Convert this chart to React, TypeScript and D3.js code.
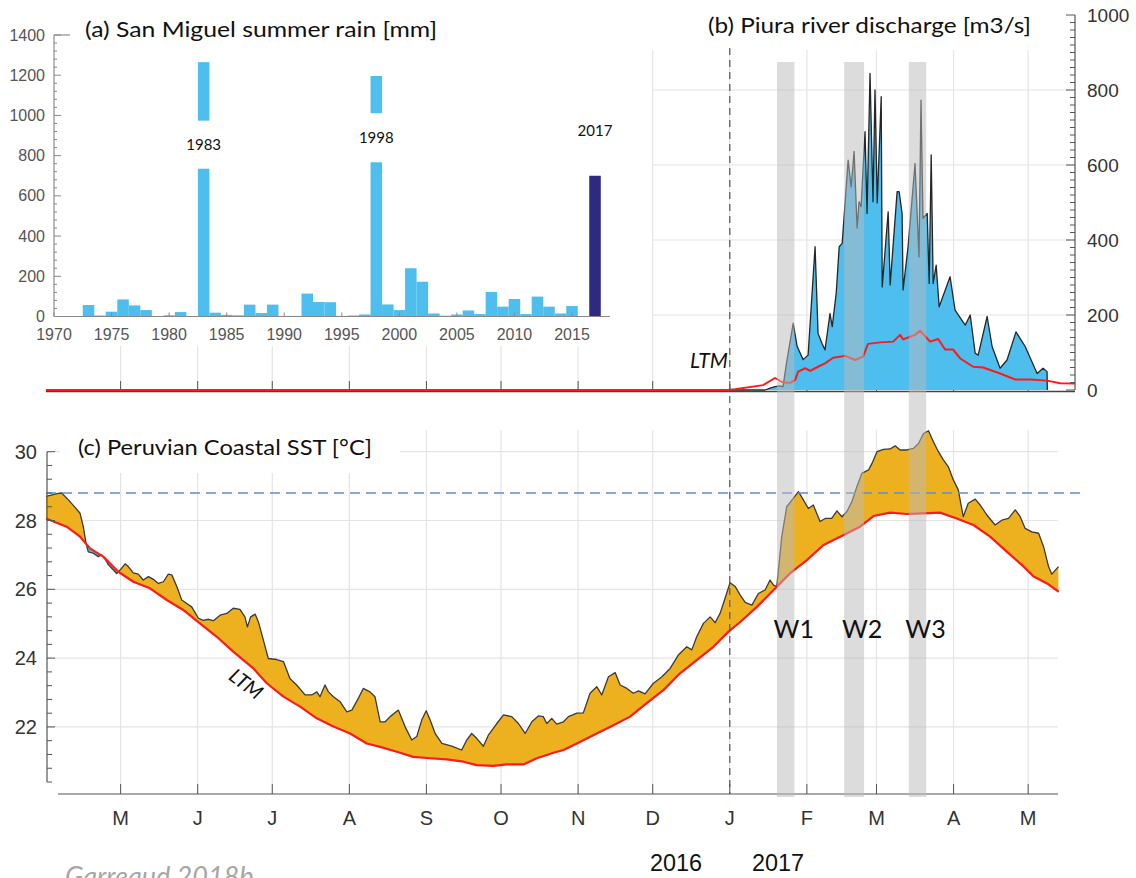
import React from "react";
import * as d3 from "d3";

const W = 1136;
const H = 878;

// (a) San Miguel summer rain [mm]
const rainYears = [
  1973, 1974, 1975, 1976, 1977, 1978, 1979, 1980, 1981, 1982, 1983, 1984, 1985, 1986, 1987,
  1988, 1989, 1990, 1991, 1992, 1993, 1994, 1995, 1996, 1997, 1998, 1999, 2000, 2001, 2002,
  2003, 2004, 2005, 2006, 2007, 2008, 2009, 2010, 2011, 2012, 2013, 2014, 2015, 2016, 2017,
];
const rainMm = [
  57, 5, 24, 85, 55, 32, 0, 6, 22, 0, 1265, 19, 8, 6, 59,
  17, 59, 3, 3, 114, 72, 71, 3, 5, 10, 1196, 60, 32, 240, 173,
  15, 4, 10, 30, 12, 122, 49, 87, 12, 99, 49, 15, 52, 0, 700,
];
const highlightYear = 2017;
const labelledYears = [1983, 1998, 2017];
// bars that are interrupted by their year label (value range hidden)
const brokenBars: Record<number, [number, number]> = { 1983: [735, 974], 1998: [767, 1011] };
const rainTicks = [0, 200, 400, 600, 800, 1000, 1200, 1400];
const yearTicks = [1970, 1975, 1980, 1985, 1990, 1995, 2000, 2005, 2010, 2015];

// (b) Piura river discharge [m3/s], day = days since 1 Jan 2017
const discharge: [number, number][] = [
  [0, 0], [14.2, 0], [16.2, 5], [18.2, 9], [20.2, 11], [21.4, 9], [23, 80], [25.5, 178],
  [27.1, 116], [29.5, 81], [31.5, 93], [34.3, 382], [35.5, 151], [37.1, 124], [38.3, 107],
  [40.3, 204], [41.2, 169], [42.8, 258], [44, 382], [45.2, 391], [47.6, 613], [48.8, 542],
  [50, 636], [51.2, 432], [52, 502], [52.8, 489], [54.4, 689], [55.2, 471], [56.4, 844],
  [57.6, 502], [58.4, 800], [59.3, 499], [60.9, 782], [61.3, 275], [63.7, 475], [64.5, 280],
  [67.3, 529], [68.1, 529], [69.3, 471], [69.7, 267], [71.7, 382], [74.5, 604], [76.1, 355],
  [76.9, 773], [77.7, 458], [79.4, 471], [80.2, 284], [81, 627], [81.8, 284], [83, 333],
  [84.2, 222], [88.6, 302], [90.6, 213], [94.7, 173], [96.7, 200], [98.7, 98], [99.9, 93],
  [103.5, 196], [105.5, 116], [108.7, 58], [111.5, 80], [115.1, 155], [118.8, 116],
  [123.6, 44], [126, 58], [127.6, 49], [127.7, 0],
];
const dischargeLtm: [number, number][] = [
  [-275, 0], [-0.7, 0], [2.1, 2], [13.4, 13], [18.2, 32], [21.4, 20], [24.3, 19], [26.3, 27],
  [27.5, 49], [30.3, 58], [32.3, 51], [35.5, 62], [38.3, 71], [41.6, 86], [46.4, 91],
  [50.4, 80], [53.6, 89], [55.6, 123], [60.5, 127], [65.7, 129], [68.5, 147], [69.7, 135],
  [72.5, 142], [74.5, 147], [76.5, 158], [80.6, 129], [83.8, 136], [86.6, 108], [89.8, 108],
  [92.7, 84], [97.9, 62], [101.9, 60], [108.7, 44], [114.8, 28], [120.8, 28], [127.6, 25],
  [132.9, 18], [138.9, 17],
];
const qTicks = [0, 200, 400, 600, 800, 1000];

// (c) Peruvian coastal SST [°C], day = days since 1 Apr 2016
const sst: [number, number][] = [
  [0, 28.7], [4.9, 28.79], [6.3, 28.8], [9, 28.6], [11.7, 28.38], [13.7, 28.21], [15, 27.82],
  [16.1, 27.34], [17, 27.09], [19, 27.05], [21, 26.95], [22.4, 27.0], [23.7, 26.9], [25.1, 26.71],
  [27.1, 26.56], [28.4, 26.46], [29.8, 26.56], [31.8, 26.74], [33.1, 26.66], [35.1, 26.48],
  [37.1, 26.44], [39.1, 26.27], [41.2, 26.37], [43.2, 26.29], [45.2, 26.17], [47.2, 26.22],
  [49.2, 26.44], [50.6, 26.42], [52.6, 26.08], [54.6, 25.69], [56.6, 25.59], [58.6, 25.49],
  [61.3, 25.16], [63.3, 25.1], [65.3, 25.13], [67.3, 25.09], [70, 25.25], [72.7, 25.3],
  [75.3, 25.45], [78, 25.42], [80, 25.2], [81, 24.91], [82.3, 25.2], [84.1, 25.28], [85.4, 25.06],
  [87.4, 24.53], [89.4, 23.99], [92.8, 23.96], [95.5, 23.9], [98.1, 23.41], [100.8, 23.22],
  [104.2, 22.93], [106.9, 22.93], [108.9, 23.02], [110.2, 22.88], [112.2, 23.22], [113.6, 23.02],
  [115.6, 22.88], [118.3, 22.73], [121, 22.44], [123, 22.49], [125.6, 22.83], [127.6, 23.12],
  [130.3, 23.02], [132.3, 22.88], [134.4, 22.15], [136.4, 22.15], [138.4, 22.3], [141.7, 22.49],
  [144.4, 22.01], [147.1, 21.62], [149.1, 21.72], [151.1, 22.2], [152.9, 22.47], [154.5, 22.2],
  [156.5, 21.81], [159.2, 21.52], [163.2, 21.44], [167.2, 21.33], [169.2, 21.62], [171.2, 21.81],
  [173.2, 21.67], [175.9, 21.44], [177.9, 21.76], [181.3, 22.1], [184, 22.35], [187.3, 22.3],
  [190, 22.1], [192.7, 21.81], [195.4, 22.15], [198, 22.32], [200, 22.3], [201.4, 22.1],
  [203.4, 22.25], [205.4, 22.08], [208.1, 22.15], [210.1, 22.3], [213.5, 22.4], [216.1, 22.41],
  [218.8, 22.98], [221.5, 23.17], [223.5, 22.93], [226.2, 23.46], [228.9, 23.58], [230.9, 23.22],
  [233.6, 23.12], [236.2, 22.98], [238.3, 23.05], [240.9, 22.96], [244.3, 23.27], [247.7, 23.46],
  [251, 23.7], [254.3, 24.09], [257.7, 24.33], [259.7, 24.24], [261.7, 24.62], [264.4, 25.01],
  [267.1, 25.2], [269.1, 25.03], [271.1, 25.3], [273.1, 25.74], [275.1, 26.19], [277.2, 26.08],
  [279.2, 25.83], [281.2, 25.62], [283.9, 25.54], [286.5, 25.88], [289.2, 25.98], [291.2, 26.27],
  [292.6, 26.12], [293.9, 26.08], [295.9, 27.53], [297.9, 28.4], [300.6, 28.65], [302.6, 28.84],
  [304.6, 28.6], [306.6, 28.35], [308.6, 28.45], [311.3, 27.97], [313.4, 28.06], [316, 28.06],
  [318.1, 28.28], [320.1, 28.11], [322.1, 28.26], [324.1, 28.55], [326.1, 28.98], [328.1, 29.37],
  [330.8, 29.47], [332.2, 29.66], [334.2, 30.0], [336.8, 30.07], [339.5, 30.08], [341.5, 30.17],
  [343.5, 30.05], [346.2, 30.05], [348.9, 30.1], [350.9, 30.24], [352.9, 30.53], [354.9, 30.61],
  [356.9, 30.29], [358.9, 30.0], [360.9, 29.76], [362.9, 29.56], [364.9, 29.18], [366.9, 28.89],
  [368.9, 28.11], [370.9, 28.5], [373.7, 28.62], [375.7, 28.45], [378.4, 28.16], [381.7, 27.87],
  [384.4, 28.01], [387.1, 28.06], [389.8, 28.31], [391.8, 28.11], [393.8, 27.77], [396.5, 27.67],
  [399.2, 27.63], [401.2, 27.24], [403.2, 26.66], [404.5, 26.44], [407.2, 26.66],
];
const sstLtm: [number, number][] = [
  [0, 28.06], [8.3, 27.82], [13.7, 27.53], [17.7, 27.19], [23, 26.95], [29.1, 26.51],
  [35.1, 26.22], [41.8, 26.03], [48.6, 25.69], [55.2, 25.4], [61.9, 25.01], [68.7, 24.62],
  [75.3, 24.19], [83.4, 23.7], [88.8, 23.27], [95.5, 22.88], [102.2, 22.59], [108.9, 22.25],
  [115.6, 22.01], [122.3, 21.81], [129, 21.52], [134.4, 21.42], [141.1, 21.28], [147.7, 21.13],
  [154.5, 21.09], [161.2, 21.06], [167.9, 20.99], [173.2, 20.89], [179.9, 20.87], [185.3, 20.91],
  [192, 20.91], [197.4, 21.09], [204.1, 21.25], [208.1, 21.33], [213.5, 21.52], [221.5, 21.81],
  [228.2, 22.05], [234.9, 22.3], [241.6, 22.69], [248.3, 23.07], [255, 23.56], [261.7, 23.94],
  [268.4, 24.33], [274.5, 24.77], [279.2, 25.05], [285.9, 25.49], [292.6, 25.98], [299.3, 26.47],
  [306, 26.85], [312.7, 27.29], [319.4, 27.53], [327.4, 27.82], [332.8, 28.13], [339.5, 28.23],
  [346.2, 28.19], [352.9, 28.21], [359.6, 28.23], [366.3, 28.06], [373, 27.87], [379.7, 27.53],
  [386.5, 27.09], [393.2, 26.66], [397.2, 26.37], [402.6, 26.17], [407.3, 25.93],
];
const sstThreshold = 28.8;
const sstTicks = [22, 24, 26, 28, 30];

// warm-rain windows
const windowNames = ["W1", "W2", "W3"];
const windowStart = ["2017-01-20", "2017-02-16", "2017-03-14"];
const windowEnd = ["2017-01-27", "2017-02-24", "2017-03-21"];

const yearLabels = ["2016", "2017"];

const AX = "'Liberation Sans', Arial, sans-serif";
const TX = "Lato, 'Open Sans', sans-serif";
const BLUE = "#4DBEEE";
const ORANGE = "#EDB120";
const RED = "#FF1A1A";
const GRID = "#e4e4e4";

const APR1 = new Date(2016, 3, 1).getTime();
const JAN1 = new Date(2017, 0, 1).getTime();
const DAY = 864e5;

export default function App() {
  const x = d3.scaleTime().domain([new Date(2016, 3, 1), new Date(2017, 4, 13)]).range([46, 1058]);
  const xa = (d: number) => x(new Date(APR1 + d * DAY));
  const xj = (d: number) => x(new Date(JAN1 + d * DAY));
  const parse = d3.timeParse("%Y-%m-%d");
  const months = d3.timeMonth.range(new Date(2016, 4, 1), new Date(2017, 4, 2));

  // (a)
  const xR = d3.scaleLinear().domain([1970, 2015]).range([54, 572]);
  const yR = d3.scaleLinear().domain([0, 1400]).range([316.5, 35]);
  const bw = xR(1971) - xR(1970);

  // (b)
  const yQ = d3.scaleLinear().domain([0, 1000]).range([390, 15]);
  const qArea = d3.area<[number, number]>().x((d) => xj(d[0])).y0(yQ(0)).y1((d) => yQ(d[1]))(discharge) || "";
  const qLine = d3.line<[number, number]>().x((d) => xj(d[0])).y((d) => yQ(d[1]))(discharge) || "";
  const qLtmLine = d3.line<[number, number]>().x((d) => xj(d[0])).y((d) => yQ(d[1]))(dischargeLtm) || "";

  // (c)
  const yS = d3.scaleLinear().domain([20.4, 30]).range([782, 451.7]);
  const ltmAbove = d3.area<[number, number]>().x((d) => xa(d[0])).y0(0).y1((d) => yS(d[1]))(sstLtm) || "";
  const ltmBelow = d3.area<[number, number]>().x((d) => xa(d[0])).y0(H).y1((d) => yS(d[1]))(sstLtm) || "";
  const sstDown = d3.area<[number, number]>().x((d) => xa(d[0])).y0(H).y1((d) => yS(d[1]))(sst) || "";
  const sstUp = d3.area<[number, number]>().x((d) => xa(d[0])).y0(0).y1((d) => yS(d[1]))(sst) || "";
  const sstLine = d3.line<[number, number]>().x((d) => xa(d[0])).y((d) => yS(d[1]))(sst) || "";
  const ltmLine = d3.line<[number, number]>().x((d) => xa(d[0])).y((d) => yS(d[1]))(sstLtm) || "";

  const sMinor = d3.range(20.4, 30.01, 0.4);
  const qMinor = d3.range(0, 1001, 20);
  const rMinor = d3.range(0, 1401, 40);
  const xJan = x(new Date(2017, 0, 1));

  return (
    <div style={{ position: "absolute", left: 0, top: 0 }}>
      <svg width={W} height={H} style={{ display: "block", background: "#fff" }}>
        <defs>
          <clipPath id="above-ltm"><path d={ltmAbove} /></clipPath>
          <clipPath id="below-ltm"><path d={ltmBelow} /></clipPath>
        </defs>

        {/* ---------- (b) discharge ---------- */}
        <g>
          {qTicks.slice(1, 5).map((t) => (
            <line key={t} x1={40} x2={1075} y1={yQ(t)} y2={yQ(t)} stroke={GRID} strokeWidth={1.2} />
          ))}
          {months.map((m) => (
            <line key={+m} x1={x(m)} x2={x(m)} y1={50} y2={390} stroke={GRID} strokeWidth={1.2} />
          ))}
          {months.map((m) => (
            <line key={"t" + +m} x1={x(m)} x2={x(m)} y1={381} y2={391} stroke="#555" strokeWidth={1} />
          ))}
          <line x1={46} x2={1075} y1={391.5} y2={391.5} stroke="#444" strokeWidth={1.5} />
          <path d={qArea} fill={BLUE} />
          <path d={qLine} fill="none" stroke="#262626" strokeWidth={1.3} strokeLinejoin="round" />
          <path d={qLtmLine} fill="none" stroke={RED} strokeWidth={2} strokeLinejoin="round" />
          {/* right axis */}
          <line x1={1075} x2={1075} y1={yQ(1000)} y2={yQ(0)} stroke="#555" strokeWidth={1.2} />
          {qMinor.map((t) => (
            <line key={t} x1={1075} x2={t % 200 === 0 ? 1066 : 1070} y1={yQ(t)} y2={yQ(t)} stroke="#555" strokeWidth={1} />
          ))}
          {qTicks.map((t) => (
            <text key={t} x={1087} y={yQ(t)} dy="0.35em" fontFamily={AX} fontSize={19} fill="#333">{t}</text>
          ))}
          <rect x={690} y={0} width={370} height={48} fill="#fff" />
          <text x={708} y={33} fontFamily={TX} fontSize={21} fill="#111" textLength={323} lengthAdjust="spacingAndGlyphs">
            (b) Piura river discharge [m3/s]
          </text>
          <text x={690} y={368} fontFamily={TX} fontStyle="italic" fontSize={21} fill="#111">LTM</text>
        </g>

        {/* ---------- (c) SST ---------- */}
        <g>
          {sstTicks.map((t) => (
            <line key={t} x1={47} x2={1058} y1={yS(t)} y2={yS(t)} stroke={GRID} strokeWidth={1.2} />
          ))}
          {months.map((m) => (
            <line key={+m} x1={x(m)} x2={x(m)} y1={430} y2={794} stroke={GRID} strokeWidth={1.2} />
          ))}
          <rect x={60} y={428} width={340} height={45} fill="#fff" />
          <path d={sstDown} fill={ORANGE} clipPath="url(#above-ltm)" />
          <path d={sstUp} fill={BLUE} clipPath="url(#below-ltm)" />
          <path d={sstLine} fill="none" stroke="#3a3a3a" strokeWidth={1.3} strokeLinejoin="round" />
          <path d={ltmLine} fill="none" stroke={RED} strokeWidth={2.2} strokeLinejoin="round" />
          <line x1={46} x2={1082} y1={yS(sstThreshold)} y2={yS(sstThreshold)} stroke="#5b8fd6" strokeWidth={1.5} strokeDasharray="10,6" />
          {/* left axis */}
          <line x1={47} x2={47} y1={yS(30)} y2={yS(20.4)} stroke="#555" strokeWidth={1.2} />
          {sMinor.map((t) => (
            <line key={t} x1={47} x2={Math.abs(t - Math.round(t)) < 0.01 && Math.round(t) % 2 === 0 ? 55 : 52} y1={yS(t)} y2={yS(t)} stroke="#555" strokeWidth={1} />
          ))}
          {sstTicks.map((t) => (
            <text key={t} x={37} y={yS(t)} dy="0.35em" textAnchor="end" fontFamily={AX} fontSize={20} fill="#333">{t}</text>
          ))}
          {/* bottom axis */}
          <line x1={58} x2={1058} y1={794} y2={794} stroke="#555" strokeWidth={1.2} />
          {months.map((m) => (
            <g key={+m}>
              <line x1={x(m)} x2={x(m)} y1={784} y2={794} stroke="#555" strokeWidth={1} />
              <text x={x(m)} y={825} textAnchor="middle" fontFamily={AX} fontSize={20} fill="#333">
                {d3.timeFormat("%b")(m)[0]}
              </text>
            </g>
          ))}
          <text x={78} y={455} fontFamily={TX} fontSize={21} fill="#111" textLength={294} lengthAdjust="spacingAndGlyphs">
            (c) Peruvian Coastal SST [°C]
          </text>
          <text transform="translate(246,684) rotate(37)" textAnchor="middle" dy="0.35em" fontFamily={TX} fontStyle="italic" fontSize={20} fill="#111">
            LTM
          </text>
        </g>

        {/* warm-rain windows across (b) and (c) */}
        {windowNames.map((w, i) => {
          const x0 = x(parse(windowStart[i]) as Date);
          const x1 = x(parse(windowEnd[i]) as Date);
          return (
            <g key={w}>
              <rect x={x0} y={62} width={x1 - x0} height={735} fill="#b9b9b9" opacity={0.5} />
              <text x={(x0 + x1) / 2 + 8} y={638} textAnchor="middle" fontFamily={TX} fontSize={25} fill="#111">{w}</text>
            </g>
          );
        })}
        <line x1={xJan} x2={xJan} y1={48} y2={794} stroke="#555" strokeWidth={1.2} strokeDasharray="7,5" />

        {/* ---------- (a) rain inset ---------- */}
        <g>
          <rect x={0} y={0} width={652} height={346} fill="#fff" />
          {rainYears.map((yr, i) => (
            <rect key={yr} x={xR(yr) - bw / 2} y={yR(rainMm[i])} width={bw} height={yR(0) - yR(rainMm[i])}
              fill={yr === highlightYear ? "#2e2a80" : BLUE} />
          ))}
          {Object.entries(brokenBars).map(([yr, [lo, hi]]) => (
            <rect key={yr} x={xR(+yr) - bw / 2 - 1} y={yR(hi)} width={bw + 2} height={yR(lo) - yR(hi)} fill="#fff" />
          ))}
          {labelledYears.map((yr) => {
            const gap = brokenBars[yr];
            const v = rainMm[rainYears.indexOf(yr)];
            const ty = gap ? (yR(gap[0]) + yR(gap[1])) / 2 + 5 : yR(v) - 40;
            return (
              <text key={yr} x={xR(yr)} y={ty} textAnchor="middle" fontFamily={TX} fontSize={15} fill="#111">{yr}</text>
            );
          })}
          <line x1={54} x2={54} y1={yR(1400)} y2={yR(0)} stroke="#777" strokeWidth={1} />
          <line x1={54} x2={70} y1={yR(1400)} y2={yR(1400)} stroke="#777" strokeWidth={1} />
          {rMinor.map((t) => (
            <line key={t} x1={54} x2={t % 200 === 0 ? 61 : 57} y1={yR(t)} y2={yR(t)} stroke="#888" strokeWidth={1} />
          ))}
          {rainTicks.map((t) => (
            <text key={t} x={45} y={yR(t)} dy="0.35em" textAnchor="end" fontFamily={AX} fontSize={16} fill="#555">{t}</text>
          ))}
          <line x1={54} x2={610} y1={yR(0)} y2={yR(0)} stroke="#888" strokeWidth={1.2} />
          {yearTicks.map((t) => (
            <g key={t}>
              <line x1={xR(t)} x2={xR(t)} y1={yR(0) - 4} y2={yR(0)} stroke="#888" strokeWidth={1} />
              <text x={xR(t)} y={340} textAnchor="middle" fontFamily={AX} fontSize={16} fill="#555">{t}</text>
            </g>
          ))}
          <text x={85} y={37} fontFamily={TX} fontSize={21} fill="#111" textLength={352} lengthAdjust="spacingAndGlyphs">
            (a) San Miguel summer rain [mm]
          </text>
        </g>

        {/* year captions and source */}
        {yearLabels.map((t, i) => (
          <text key={t} x={[676, 778][i]} y={871} textAnchor="middle" fontFamily={AX} fontSize={23} fill="#111" textLength={52} lengthAdjust="spacingAndGlyphs">{t}</text>
        ))}
        <text x={65} y={886} fontFamily={TX} fontStyle="italic" fontSize={27} fill="#a6a6a6">Garreaud 2018b</text>
      </svg>
    </div>
  );
}
